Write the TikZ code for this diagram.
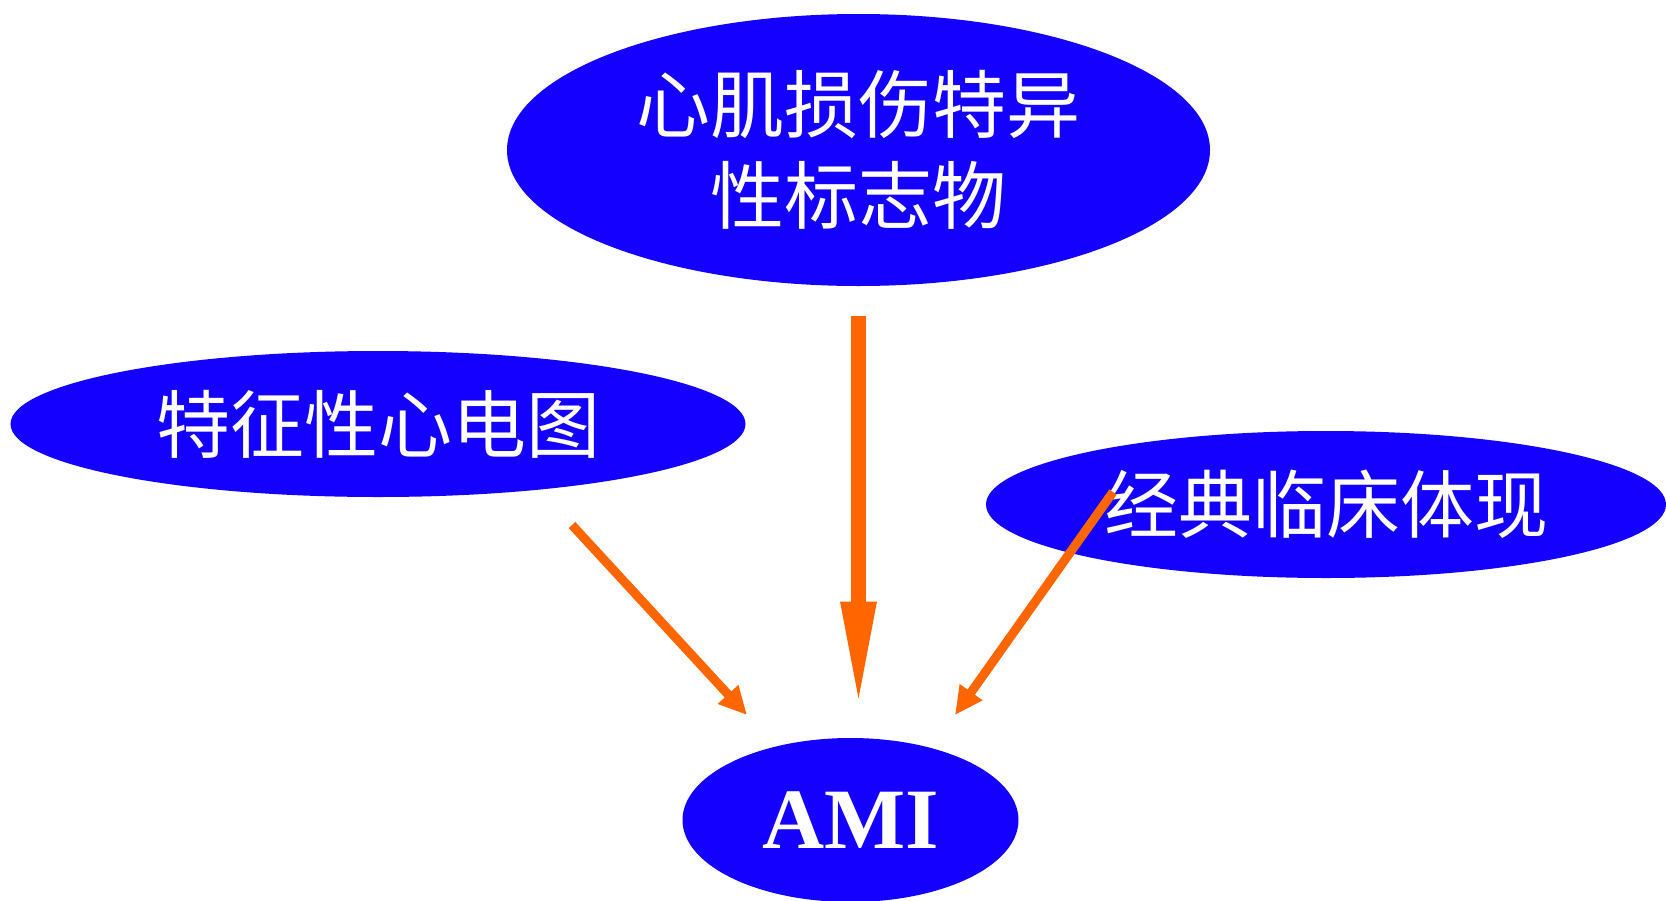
\documentclass[tikz,border=0pt]{standalone}
\usepackage{fontspec}
\setmainfont{Liberation Serif}
\newfontfamily\cjk{Noto Sans CJK SC}
\usetikzlibrary{shapes.geometric,arrows.meta}
\definecolor{ellblue}{RGB}{20,0,255}
\definecolor{arrorange}{RGB}{255,102,0}
\tikzset{
  oval/.style={ellipse, fill=ellblue, draw=none, inner sep=0pt, text=white, align=center},
  cjktext/.style={font=\cjk\fontsize{37}{45.5}\selectfont},
  bigarrow/.style={draw=arrorange, line width=7.5pt, -{Triangle[length=54pt,width=16pt]}},
  smallarrow/.style={draw=arrorange, line width=4.5pt, -{Triangle[length=14pt,width=13pt]}}
}
\begin{document}
\begin{tikzpicture}[x=0.5pt,y=-0.5pt]
\useasboundingbox (0,0) rectangle (1666,900);
\node[oval, cjktext, minimum width=703pt*0.5, minimum height=272pt*0.5] (top) at (858.5,150) {心肌损伤特异\\性标志物};
\node[oval, cjktext, minimum width=735pt*0.5, minimum height=146pt*0.5] (left) at (378,424) {特征性心电图};
\node[oval, cjktext, minimum width=680pt*0.5, minimum height=147pt*0.5] (right) at (1326,504.5) {经典临床体现};
\node[oval, font={\fontsize{43}{50}\selectfont\bfseries}, minimum width=336pt*0.5, minimum height=164pt*0.5] (ami) at (850.5,820) {AMI};
\coordinate (la) at (572,525);
\coordinate (lb) at (747,715);
\coordinate (ra) at (1113,492);
\coordinate (rb) at (955,715);
\draw[bigarrow, shorten <=15pt, shorten >=14pt] (top) -- (top |- ami.north);
\draw[smallarrow] (la) -- (lb);
\draw[smallarrow] (ra) -- (rb);
\end{tikzpicture}
\end{document}
